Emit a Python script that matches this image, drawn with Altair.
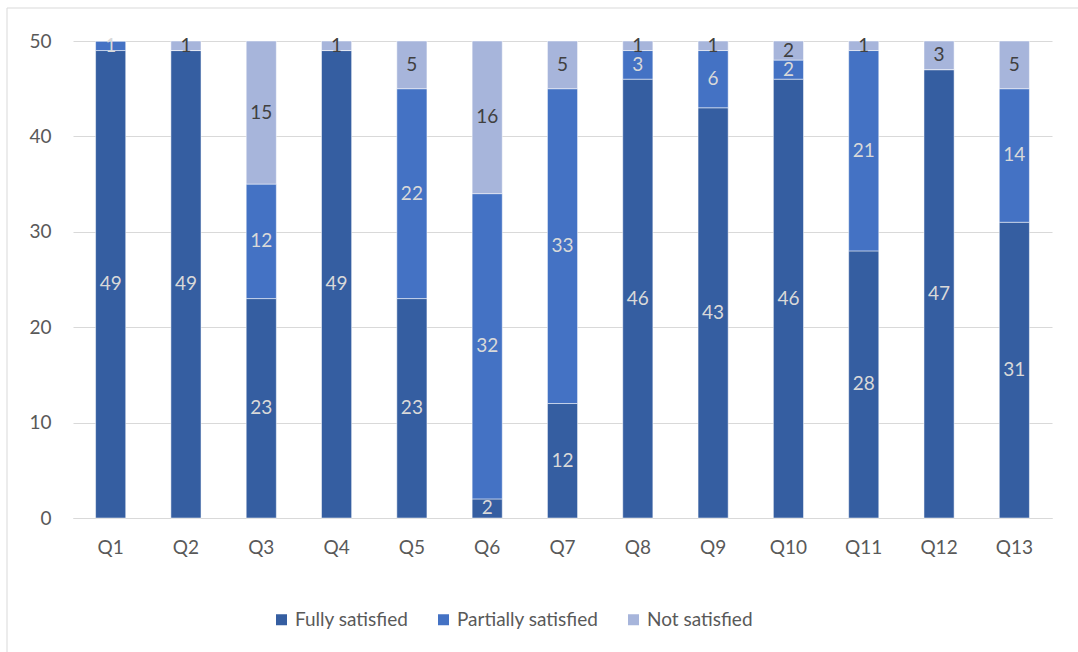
import altair as alt
import pandas as pd

questions = ["Q1", "Q2", "Q3", "Q4", "Q5", "Q6", "Q7", "Q8", "Q9", "Q10", "Q11", "Q12", "Q13"]
series = ["Fully satisfied", "Partially satisfied", "Not satisfied"]
fully = [49, 49, 23, 49, 23, 2, 12, 46, 43, 46, 28, 47, 31]
partially = [1, 0, 12, 0, 22, 32, 33, 3, 6, 2, 21, 0, 14]
not_sat = [0, 1, 15, 1, 5, 16, 5, 1, 1, 2, 1, 3, 5]
y_ticks = [0, 10, 20, 30, 40, 50]

colors = ["#355EA1", "#4472C4", "#A7B5DB"]
label_colors = ["#D9D9D9", "#D9D9D9", "#404040"]

rows = []
for s_i, (name, vals) in enumerate(zip(series, [fully, partially, not_sat])):
    for q, v in zip(questions, vals):
        rows.append({"q": q, "series": name, "value": v, "order": s_i})
df = pd.DataFrame(rows)

FONT = "Lato"
FS = 19

base = alt.Chart(df).transform_stack(
    stack="value", groupby=["q"], as_=["y0", "y1"], sort=[alt.SortField("order", order="ascending")]
).transform_calculate(mid="(datum.y0 + datum.y1) / 2")

x_enc = alt.X("q:N", sort=questions, title=None,
              scale=alt.Scale(paddingInner=0.6, paddingOuter=0.3),
              axis=alt.Axis(labelAngle=0, ticks=False, domainColor="#D9D9D9", domainWidth=1,
                            labelFont=FONT, labelFontSize=FS, labelColor="#595959", labelPadding=20))

bars = base.mark_bar(stroke="white", strokeWidth=0.5).encode(
    x=x_enc,
    y=alt.Y("y0:Q", title=None, scale=alt.Scale(domain=[0, 50], nice=False),
            axis=alt.Axis(values=y_ticks, ticks=False, domain=False, gridColor="#D9D9D9", gridWidth=1,
                          labelFont=FONT, labelFontSize=FS, labelColor="#595959", labelPadding=22)),
    y2="y1:Q",
    color=alt.Color("series:N", sort=series, title=None,
                    scale=alt.Scale(domain=series, range=colors),
                    legend=alt.Legend(orient="none", legendX=199, legendY=569, direction="horizontal",
                                      symbolType="square", symbolSize=121, symbolStrokeWidth=0,
                                      labelFont=FONT, labelFontSize=FS, labelColor="#595959",
                                      labelOffset=4, columnPadding=25)),
)

texts = base.transform_filter("datum.value > 0").mark_text(font=FONT, fontSize=FS, baseline="middle").encode(
    x=alt.X("q:N", sort=questions),
    y=alt.Y("mid:Q"),
    text="value:Q",
    color=alt.Color("series:N", scale=alt.Scale(domain=series, range=label_colors), legend=None),
)

border = alt.Chart(pd.DataFrame({"a": [0]})).mark_rect(fill=None, stroke="#D9D9D9", strokeWidth=1).encode(
    x=alt.value(-66), x2=alt.value(1100), y=alt.value(-33), y2=alt.value(700)
)

chart = alt.layer(bars, texts, border).resolve_scale(color="independent").properties(
    width=979, height=477,
    autosize=alt.AutoSizeParams(type="none"),
    padding={"left": 73, "top": 41, "right": 26, "bottom": 134},
).configure_view(stroke=None)

chart.save("out.html", embed_options={"renderer": "svg", "actions": False})
